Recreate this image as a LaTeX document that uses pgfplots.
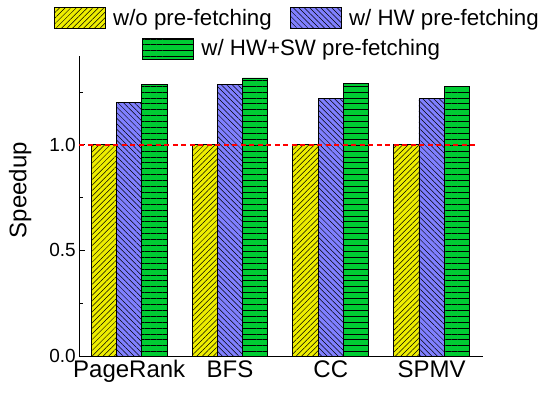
\documentclass[border=0pt]{standalone}
\usepackage{pgfplots}
\pgfplotsset{compat=1.18}
\usepackage{fontspec}
\setmainfont{Liberation Sans}
\usetikzlibrary{patterns.meta}
\definecolor{cyel}{RGB}{238,238,0}
\definecolor{cblu}{RGB}{128,128,255}
\definecolor{cgrn}{RGB}{0,204,51}
\pgfplotsset{
  myleg/.style={legend image code/.code={\draw[##1] (0pt,-10.5pt) rectangle (51pt,10.5pt);}},
  styA/.style={fill=cyel, draw=black, line width=0.9pt, postaction={pattern={Lines[angle=45,distance=3.9pt,line width=0.5pt]}, pattern color=black}},
  styB/.style={fill=cblu, draw=black, line width=0.9pt, postaction={pattern={Lines[angle=-45,distance=3.9pt,line width=0.5pt]}, pattern color=black}},
  styC/.style={fill=cgrn, draw=black, line width=0.9pt, postaction={pattern={Lines[angle=0,distance=5.9pt,line width=0.8pt]}, pattern color=black}},
}
\begin{document}
\begin{tikzpicture}
\begin{axis}[
  at={(0,0)}, anchor=south west,
  scale only axis, width=403.7pt, height=300pt,
  ybar=0pt, bar width=25.3pt,
  xmin=-0.495, xmax=3.51, ymin=0, ymax=1.42,
  axis x line*=bottom, axis y line*=left,
  axis line style={-, line width=0.8pt},
  xtick={0,1,2,3},
  xticklabels={PageRank,BFS,CC,SPMV},
  x tick style={draw=none},
  x tick label style={font=\fontsize{24}{28}\selectfont, yshift=-1pt},
  ytick={0,0.5,1}, minor ytick={0.25,0.75,1.25},
  yticklabel style={font=\fontsize{19}{23}\selectfont, /pgf/number format/.cd, fixed, fixed zerofill, precision=1},
  /pgf/number format/assume math mode=true,
  tick align=inside, major tick length=6pt, minor tick length=4pt,
  y tick style={black, line width=0.8pt},
  ylabel={Speedup},
  ylabel style={font=\fontsize{24}{28}\selectfont, at={(axis description cs:-0.131,0.553)}, anchor=base},
  legend style={at={(0.540,1.127)}, anchor=center, draw=none, fill=none,
    font=\fontsize{22.3}{26}\selectfont, legend columns=2,
    nodes={inner sep=2pt},
    /tikz/every odd column/.append style={column sep=5.4pt},
    /tikz/every even column/.append style={column sep=16pt}},
  clip=false,
]
\addplot[styA, myleg] coordinates {(0,1.0) (1,1.0) (2,1.0) (3,1.0)};
\addlegendentry{w/o pre-fetching}
\addplot[styB, myleg] coordinates {(0,1.198) (1,1.283) (2,1.217) (3,1.217)};
\addlegendentry{w/ HW pre-fetching}
\addplot[styC, myleg] coordinates {(0,1.284) (1,1.316) (2,1.288) (3,1.276)};
\addplot[red, line width=2pt, dash pattern=on 5pt off 3.5pt, sharp plot, mark=none, forget plot] coordinates {(-0.495,1) (3.45,1)};
\end{axis}
\begin{axis}[
  at={(0,0)}, anchor=south west,
  scale only axis, width=403.7pt, height=300pt,
  hide axis, xmin=0, xmax=1, ymin=0, ymax=1,
  legend style={at={(0.527,1.025)}, anchor=center, draw=none, fill=none,
    font=\fontsize{22.3}{26}\selectfont,
    nodes={inner sep=2pt},
    /tikz/every odd column/.append style={column sep=5.4pt}},
]
\addlegendimage{styC, myleg}
\addlegendentry{w/ HW+SW pre-fetching}
\end{axis}
\path (-79.3pt,-37pt) rectangle (468.7pt,356pt);
\end{tikzpicture}
\end{document}
